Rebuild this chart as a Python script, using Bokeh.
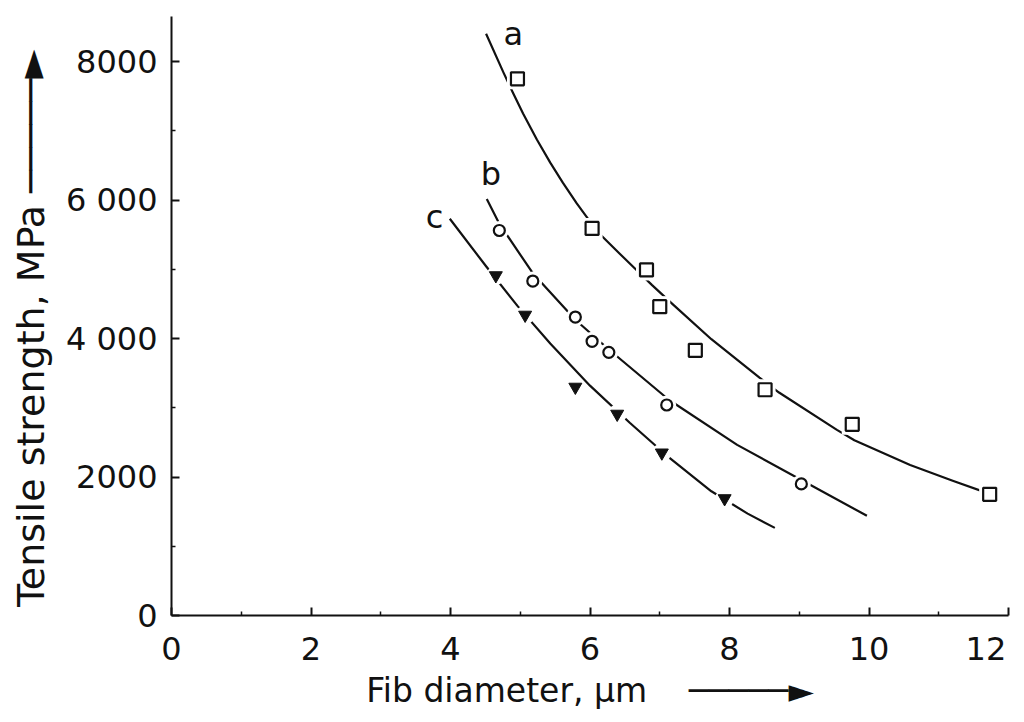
from bokeh.plotting import figure
from bokeh.models import Range1d, FixedTicker
from bokeh.core.properties import value
from bokeh.embed import file_html
from bokeh.resources import INLINE

FONT = "DejaVu Sans"

# measured data points (fibre diameter in um, tensile strength in MPa)
a_x = [4.96, 6.03, 6.81, 7.00, 7.51, 8.51, 9.76, 11.73]
a_y = [7750, 5590, 4990, 4460, 3830, 3260, 2760, 1750]
b_x = [4.70, 5.18, 5.79, 6.03, 6.27, 7.10, 9.03]
b_y = [5560, 4830, 4310, 3960, 3800, 3040, 1900]
c_x = [4.65, 5.07, 5.79, 6.39, 7.03, 7.93]
c_y = [4910, 4340, 3300, 2910, 2350, 1690]

# traced curves
a_curve_x = [4.51, 4.76, 4.89, 5.04, 5.24, 5.43, 5.61, 5.81, 5.97, 6.14, 6.43, 6.67, 6.89,
             7.18, 7.74, 8.43, 8.71, 9.54, 9.79, 10.59, 11.20, 11.72]
a_curve_y = [8400, 7840, 7560, 7250, 6870, 6540, 6250, 5950, 5730, 5510, 5220, 4986, 4771,
             4500, 3990, 3435, 3220, 2681, 2530, 2174, 1945, 1760]
b_curve_x = [4.52, 4.70, 5.18, 5.79, 6.27, 7.13, 8.11, 9.03, 9.97]
b_curve_y = [6014, 5657, 4943, 4271, 3841, 3116, 2464, 1956, 1440]
c_curve_x = [3.99, 4.51, 4.96, 5.43, 6.00, 6.57, 7.14, 7.74, 8.26, 8.65]
c_curve_y = [5729, 5043, 4471, 3928, 3319, 2783, 2275, 1794, 1471, 1265]

# curve labels
lab_text = ["a", "b", "c"]
lab_x = [4.90, 4.58, 3.77]
lab_y = [8400, 6371, 5757]

x_ticks = [0, 2, 4, 6, 8, 10, 12]
x_minor = [1, 3, 5, 7, 9, 11]
x_tick_labels = {12: "12\u00a0"}
y_ticks = [0, 2000, 4000, 6000, 8000]
y_minor = [1000, 3000, 5000, 7000]
y_tick_labels = {0: "0", 2000: "2000", 4000: "4 000", 6000: "6 000", 8000: "8000"}

x_title = "Fib diameter, µm\u00a0\u00a0\u00a0\u00a0\u2500\u2500\u2500\u2500\u2500\u25ba"
y_title = "Tensile strength, MPa\u00a0\u2500\u2500\u2500\u2500\u2500\u25ba\u00a0\u00a0"

W, H = 1016, 714
p = figure(width=W, height=H, output_backend="svg", toolbar_location=None,
           x_range=Range1d(0, 12), y_range=Range1d(0, 8650),
           min_border_left=171, min_border_right=8, min_border_top=16, min_border_bottom=99)
p.outline_line_color = None
p.grid.visible = False
p.background_fill_color = "white"
p.border_fill_color = "white"

for ax in (p.xaxis[0], p.yaxis[0]):
    ax.axis_line_width = 2
    ax.axis_line_color = "#111111"
    ax.major_tick_line_width = 2
    ax.minor_tick_line_width = 1.5
    ax.major_tick_line_color = "#111111"
    ax.minor_tick_line_color = "#111111"
    ax.major_tick_out = 0
    ax.major_tick_in = 8
    ax.minor_tick_out = 0
    ax.minor_tick_in = 4
    ax.major_label_text_font = FONT
    ax.major_label_text_font_size = "32px"
    ax.major_label_text_color = "#111111"
    ax.axis_label_text_font = FONT
    ax.axis_label_text_font_style = "normal"
    ax.axis_label_text_color = "#111111"

p.xaxis[0].ticker = FixedTicker(ticks=x_ticks, minor_ticks=x_minor)
p.yaxis[0].ticker = FixedTicker(ticks=y_ticks, minor_ticks=y_minor)
p.xaxis[0].major_label_overrides = {k: v for k, v in x_tick_labels.items()}
p.yaxis[0].major_label_overrides = {k: v for k, v in y_tick_labels.items()}
p.xaxis[0].major_label_standoff = 14
p.yaxis[0].major_label_standoff = 14
p.xaxis[0].axis_label = x_title
p.yaxis[0].axis_label = y_title
p.xaxis[0].axis_label_text_font_size = "33px"
p.yaxis[0].axis_label_text_font_size = "38px"
p.xaxis[0].axis_label_standoff = 0
p.yaxis[0].axis_label_standoff = 10

# curves
for cx, cy in ((a_curve_x, a_curve_y), (b_curve_x, b_curve_y), (c_curve_x, c_curve_y)):
    p.line(cx, cy, line_color="#111111", line_width=2.2, line_join="round")

# white halos to break lines at markers
p.scatter(a_x, a_y, marker="square", size=21, fill_color="white", line_color=None)
p.scatter(b_x, b_y, marker="circle", size=19, fill_color="white", line_color=None)
p.scatter(c_x, c_y, marker="circle", size=19, fill_color="white", line_color=None)

# markers
p.scatter(a_x, a_y, marker="square", size=13, fill_color="white", line_color="#111111", line_width=2.2)
p.scatter(b_x, b_y, marker="circle", size=11, fill_color="white", line_color="#111111", line_width=2.2)
p.scatter(c_x, c_y, marker="inverted_triangle", size=13, fill_color="#111111", line_color="#111111", line_width=1)

# curve labels
p.text(lab_x, lab_y, text=lab_text, text_font=value(FONT), text_font_size="32px",
       text_align="center", text_baseline="middle", text_color="#111111")

open("out.html", "w").write(file_html(p, INLINE))
